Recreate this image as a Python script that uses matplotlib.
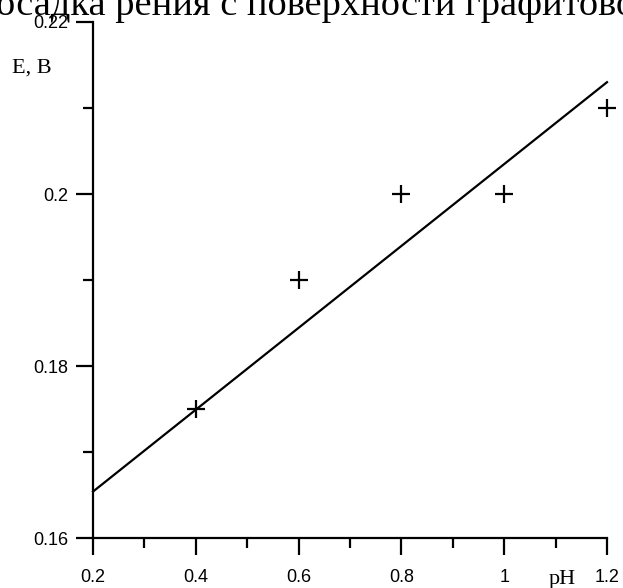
import matplotlib
matplotlib.use("Agg")
import matplotlib.pyplot as plt
from matplotlib.ticker import MultipleLocator

# measured points
ph = [0.4, 0.6, 0.8, 1.0, 1.2]
e_val = [0.175, 0.19, 0.20, 0.20, 0.21]

# fitted line as drawn in the original
fit_ph = [0.2, 1.2]
fit_e = [0.1654, 0.2130]

x_ticks = [0.2, 0.4, 0.6, 0.8, 1.0, 1.2]
x_labels = ["0.2", "0.4", "0.6", "0.8", "1", "1.2"]
y_ticks = [0.16, 0.18, 0.20, 0.22]
y_labels = ["0.16", "0.18", "0.2", "0.22"]

fig = plt.figure(figsize=(6.23, 5.88), dpi=100)
ax = fig.add_axes([0.1493, 0.085, 0.8250, 0.8776])

ax.plot(fit_ph, fit_e, color="black", lw=1.6, clip_on=False)
ax.plot(ph, e_val, linestyle="none", marker="+", color="black",
        markersize=13, mew=1.6, clip_on=False)

ax.set_xlim(0.2, 1.2)
ax.set_ylim(0.16, 0.22)
ax.spines["top"].set_visible(False)
ax.spines["right"].set_visible(False)
for s in ["left", "bottom"]:
    ax.spines[s].set_linewidth(1.6)

ax.set_xticks(x_ticks)
ax.set_xticklabels(x_labels)
ax.set_yticks(y_ticks)
ax.set_yticklabels(y_labels)
ax.xaxis.set_minor_locator(MultipleLocator(0.1))
ax.yaxis.set_minor_locator(MultipleLocator(0.01))
ax.tick_params(which="major", length=12, width=1.6, labelsize=13)
ax.tick_params(which="minor", length=7, width=1.6)
ax.tick_params(axis="x", which="major", pad=10)
ax.tick_params(axis="y", which="major", pad=6)
for lab in ax.get_xticklabels() + ax.get_yticklabels():
    lab.set_family("Liberation Sans")

fig.text(0.019, 0.876, "E, В", family="Liberation Serif", fontsize=16,
         ha="left", va="baseline")
fig.text(0.880, 0.007, "pH", family="Liberation Serif", fontsize=16,
         ha="left", va="baseline")
# caption text above the chart, cut off by the top edge in the original
fig.text(-0.006, 0.974, "осадка рения с поверхности графитового",
         family="Liberation Serif", fontsize=27.6, ha="left", va="baseline")

fig.savefig("out.png", dpi=100)
